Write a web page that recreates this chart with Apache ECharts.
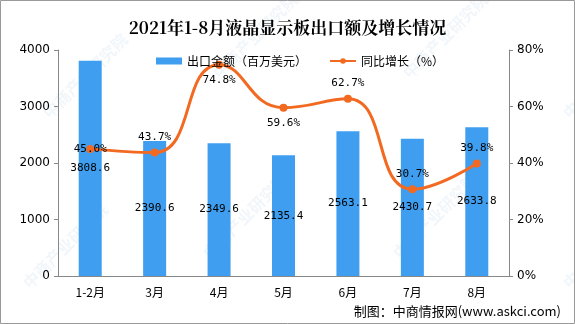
<!DOCTYPE html>
<html><head><meta charset="utf-8">
<script src="https://cdn.jsdelivr.net/npm/echarts@6/dist/echarts.min.js"></script>
<style>html,body{margin:0;padding:0;background:#fff}#c{width:575px;height:324px}</style>
</head><body><div id="c"></div>
<script>
const categories = ['1-2月','3月','4月','5月','6月','7月','8月'];
const exportValues = [3808.6, 2390.6, 2349.6, 2135.4, 2563.1, 2430.7, 2633.8];
const growthValues = [45.0, 43.7, 74.8, 59.6, 62.7, 30.7, 39.8];
const growthLabelPos = ['inside','top','bottom','bottom','top','top','top'];
const leftTicks = {min:0, max:4000, interval:1000};
const rightTicks = {min:0, max:80, interval:20};

const chart = echarts.init(document.getElementById('c'));
const labelFont = {fontFamily:'DejaVu Sans Mono', fontSize:11, color:'#000'};
const wm = [];
const wmPos = [[40,110],[210,70],[400,70],[560,110],[20,280],[200,250],[390,250],[560,280]];
wmPos.forEach(p=>wm.push({type:'text',x:p[0],y:p[1],rotation:Math.PI/4,silent:true,z:-10,
  style:{text:'中商产业研究院',fill:'rgba(140,185,225,0.12)',font:'bold 16px "Noto Sans CJK SC"'}}));
chart.setOption({
  animation:false,
  textStyle:{fontFamily:'"Noto Sans CJK SC", sans-serif'},
  title:{text:'2021年1-8月液晶显示板出口额及增长情况',left:'center',top:14,
    textStyle:{fontSize:17,fontWeight:'bold',color:'#000',fontFamily:'"Noto Serif CJK SC","Noto Sans CJK SC", serif'}},
  legend:{top:50,left:151,itemGap:22,itemWidth:26,itemHeight:7,
    textStyle:{fontSize:12,color:'#000',fontFamily:'"Noto Sans CJK SC"'},
    data:[{name:'出口金额（百万美元）',icon:'rect'},{name:'同比增长（%）'}]},
  grid:{left:58,right:66,top:50,bottom:48},
  xAxis:{type:'category',data:categories,
    axisLine:{lineStyle:{color:'#888'}},axisTick:{lineStyle:{color:'#888'},length:5},
    axisLabel:{color:'#000',fontSize:12,margin:10,fontFamily:'"Noto Sans CJK SC"'}},
  yAxis:[
    {type:'value',min:leftTicks.min,max:leftTicks.max,interval:leftTicks.interval,
     splitLine:{show:false},axisLine:{show:true,lineStyle:{color:'#888'}},
     axisTick:{show:true,length:4,lineStyle:{color:'#888'}},
     axisLabel:{color:'#000',fontSize:12,fontFamily:'DejaVu Sans',margin:8,formatter:v=>String(v)}},
    {type:'value',min:rightTicks.min,max:rightTicks.max,interval:rightTicks.interval,
     splitLine:{show:false},axisLine:{show:true,lineStyle:{color:'#888'}},
     axisTick:{show:true,length:4,lineStyle:{color:'#888'}},
     axisLabel:{color:'#000',fontSize:12,fontFamily:'DejaVu Sans',margin:8,formatter:'{value}%'}}
  ],
  graphic:[{type:'rect',shape:{x:0.5,y:0.5,width:574,height:323},style:{fill:'none',stroke:'#999',lineWidth:1},silent:true}].concat(wm).concat([
    {type:'text',right:14,bottom:6,style:{text:'制图：中商情报网(www.askci.com)',fill:'#000',font:'13px "Noto Sans CJK SC"'}}
  ]),
  series:[
    {name:'出口金额（百万美元）',type:'bar',data:exportValues,barWidth:23,
     itemStyle:{color:'#3F9EF0'},
     label:{show:true,position:'inside',formatter:p=>p.value.toFixed(1),...labelFont}},
    {name:'同比增长（%）',type:'line',yAxisIndex:1,smooth:0.5,
     data:growthValues.map((v,i)=>({value:v,label:{position:growthLabelPos[i]}})),
     symbol:'circle',symbolSize:8,
     lineStyle:{color:'#F26A21',width:3},itemStyle:{color:'#F26A21'},
     label:{show:true,formatter:p=>p.value.toFixed(1)+'%',distance:6,...labelFont}}
  ]
});
</script></body></html>
